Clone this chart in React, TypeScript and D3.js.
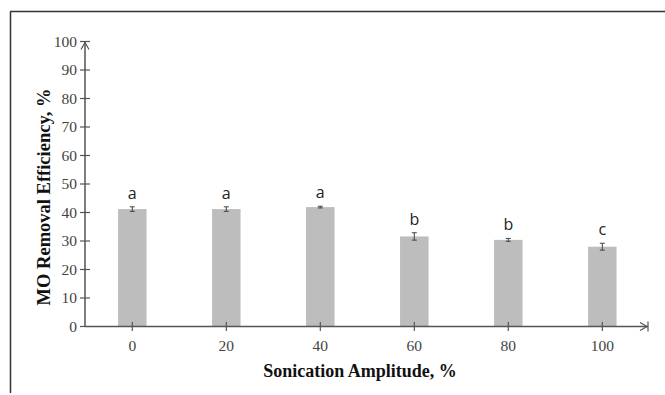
import React from "react";
import * as d3 from "d3";

const categories = ["0", "20", "40", "60", "80", "100"];
const values = [41.2, 41.2, 41.9, 31.6, 30.4, 28.0];
const errors = [0.8, 0.8, 0.3, 1.3, 0.5, 1.2];
const letters = ["a", "a", "a", "b", "b", "c"];
const yTicks = [0, 10, 20, 30, 40, 50, 60, 70, 80, 90, 100];

export default function App() {
  const W = 665, H = 395;
  const x0 = 85, xEnd = 648;
  const y = d3.scaleLinear().domain([0, 100]).range([326.5, 41.5]);
  const x = d3.scalePoint<string>().domain(categories).range([132.3, 602.3]);
  const bw = 28.5;
  const axisColor = "#555";
  const tickFont = "'Liberation Serif', 'Times New Roman', serif";
  return (
    <svg width={W} height={H} style={{ position: "absolute", left: 0, top: 0 }}>
      <rect x={0} y={0} width={W} height={H} fill="#fff" />
      {/* frame */}
      <line x1={10.5} y1={11.5} x2={10.5} y2={393} stroke="#333" strokeWidth={1.5} />
      <line x1={10} y1={11.5} x2={W} y2={11.5} stroke="#333" strokeWidth={1.5} />
      {/* bars */}
      {categories.map((c, i) => (
        <rect key={"b" + c} x={(x(c) as number) - bw / 2} y={y(values[i])} width={bw}
          height={y(0) - y(values[i])} fill="#bdbdbd" />
      ))}
      {/* error bars */}
      {categories.map((c, i) => {
        const cx = x(c) as number;
        const t = y(values[i] + errors[i]);
        const b = y(values[i] - errors[i]);
        return (
          <g key={"e" + c} stroke="#444" strokeWidth={1}>
            <line x1={cx} x2={cx} y1={t} y2={b} />
            <line x1={cx - 2.5} x2={cx + 2.5} y1={t} y2={t} />
            <line x1={cx - 2.5} x2={cx + 2.5} y1={b} y2={b} />
          </g>
        );
      })}
      {/* letters */}
      {categories.map((c, i) => (
        <text key={"l" + c} x={x(c) as number} y={y(values[i] + errors[i]) - 8}
          textAnchor="middle" fontFamily="'Open Sans', 'Liberation Sans', sans-serif"
          fontSize={16} fill="#222">{letters[i]}</text>
      ))}
      {/* y axis */}
      <line x1={x0} x2={x0} y1={y(0)} y2={y(100)} stroke={axisColor} strokeWidth={1.5} />
      <line x1={x0 - 5} x2={x0 + 5} y1={y(100)} y2={y(100)} stroke={axisColor} strokeWidth={1.2} />
      <path d={`M${x0 - 4},${y(100) + 8} L${x0},${y(100) + 1} L${x0 + 4},${y(100) + 8}`} fill="none" stroke={axisColor} strokeWidth={1.2} />
      {yTicks.map((t) => (
        <g key={"yt" + t}>
          {t < 100 && t > 0 && (
            <line x1={x0 - 5} x2={x0 + 5} y1={y(t)} y2={y(t)} stroke={axisColor} strokeWidth={1.2} />
          )}
          {t === 0 && (
            <line x1={x0 - 5} x2={x0} y1={y(t)} y2={y(t)} stroke={axisColor} strokeWidth={1.2} />
          )}
          <text x={x0 - 8} y={y(t)} dy="0.35em" textAnchor="end" fontFamily={tickFont}
            fontSize={15.5} fill="#444">{t}</text>
        </g>
      ))}
      {/* x axis */}
      <line x1={x0} x2={xEnd} y1={y(0)} y2={y(0)} stroke={axisColor} strokeWidth={1.5} />
      <line x1={xEnd} x2={xEnd} y1={y(0) - 5} y2={y(0) + 5} stroke={axisColor} strokeWidth={1.2} />
      <path d={`M${xEnd - 8},${y(0) - 4} L${xEnd - 1},${y(0)} L${xEnd - 8},${y(0) + 4}`} fill="none" stroke={axisColor} strokeWidth={1.2} />
      {categories.map((c) => (
        <g key={"xt" + c}>
          <line x1={x(c) as number} x2={x(c) as number} y1={y(0) - 4.5} y2={y(0) + 4.5} stroke={axisColor} strokeWidth={1.2} />
          <text x={x(c) as number} y={350.5} textAnchor="middle" fontFamily={tickFont}
            fontSize={15.5} fill="#444">{c}</text>
        </g>
      ))}
      {/* titles */}
      <text x={360} y={377} textAnchor="middle" fontFamily={tickFont} fontWeight="bold"
        fontSize={18} fill="#111">Sonication Amplitude, %</text>
      <text transform={`translate(50,197) rotate(-90)`} textAnchor="middle" fontFamily={tickFont}
        fontWeight="bold" fontSize={18.5} fill="#111">MO Removal Efficiency, %</text>
    </svg>
  );
}
